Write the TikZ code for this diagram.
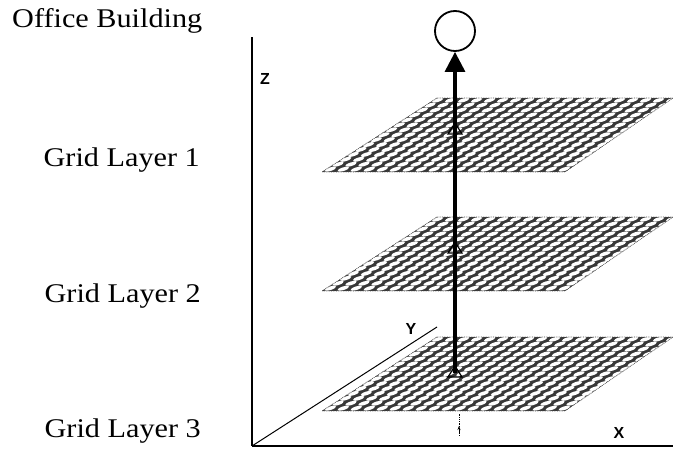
\documentclass[tikz,border=0pt]{standalone}
\usepackage{fontspec}
\setmainfont[FakeStretch=1.12]{Liberation Serif}
\setsansfont{Liberation Sans}
\usetikzlibrary{arrows.meta}
\tikzset{
  meshfill/.style={fill=black!78},
  hole/.style={fill=white},
  edge/.style={draw=black!70, line width=0.7pt, densely dotted},
  lbl/.style={font=\fontsize{27}{31}\selectfont, inner sep=0pt},
  axlbl/.style={font=\sffamily\bfseries\fontsize{16}{18}\selectfont, inner sep=0pt},
  axis/.style={draw=black, line width=1.3pt},
}
\newcommand{\gridplane}[1]{%
  \begin{scope}
    \clip (437,#1) -- (673,#1) -- (565,{#1+74}) -- (322,{#1+74}) -- cycle;
    \fill[meshfill] (300,#1) rectangle (680,{#1+74});
    \foreach \r in {0,...,15} {
      \pgfmathsetmacro{\yy}{#1+2.2+\r*4.93}
      \pgfmathsetmacro{\xs}{437-(\yy-#1)*1.554}
      \foreach \j in {-1,...,19}
        \fill[hole, shift={({\xs+\j*13+4},\yy)}, rotate=17] (0,0) ellipse [x radius=6pt, y radius=1.8pt];
    }
  \end{scope}
  \draw[edge] (437,#1) -- (673,#1) -- (565,{#1+74}) -- (322,{#1+74}) -- cycle;
}
\begin{document}
\begin{tikzpicture}[x=1pt,y=-1pt]
\useasboundingbox (0,0) rectangle (673,449);
% axes
\coordinate (O) at (252,446);
\coordinate (zt) at (252,37);
\coordinate (xe) at (673,446);
\coordinate (ye) at (437,327);
\draw[axis] (O) -- (zt);
\draw[axis, line width=1.8pt] (O) -- (xe);
\draw[axis, line width=1pt] (O) -- (ye);
\node[axlbl] (zl) at (265,79) {Z};
\node[axlbl] (yl) at (411,329) {Y};
\node[axlbl] (xl) at (619,433) {X};
% grid layers
\gridplane{98}
\gridplane{217}
\gridplane{337}
\coordinate (c1) at (455,130);
\coordinate (c2) at (455,249);
\coordinate (c3) at (455,373);
% office building
\node[draw, circle, minimum size=40pt, line width=1.8pt, inner sep=0pt, fill=white] (ob) at (455,31) {};
\draw[line width=3.2pt, -{Triangle[width=20pt,length=20pt]}] (c3) -- (ob.south);
\draw[line width=3.2pt] (c3) -- (c1);
\foreach \c in {c1,c2,c3}
  \draw[line width=1.2pt] ([shift={(-7,4)}]\c) -- ([shift={(0,-7)}]\c) -- ([shift={(7,4)}]\c) -- cycle;
% small dotted arrow below
\coordinate (s0) at (459,436);
\coordinate (s1) at (459,413);
\draw[densely dotted, line width=0.8pt] (s0) -- (s1);
\draw[line width=0.8pt, -{Stealth[length=4pt,width=3pt]}] (459,432) -- (459,426);
% labels
\node[lbl, anchor=west] (tob) at (12,21) {Office Building};
\node[lbl, anchor=east] (tg1) at (200,160) {Grid Layer 1};
\node[lbl, anchor=east] (tg2) at (201,296) {Grid Layer 2};
\node[lbl, anchor=east] (tg3) at (201,431) {Grid Layer 3};
\end{tikzpicture}
\end{document}
